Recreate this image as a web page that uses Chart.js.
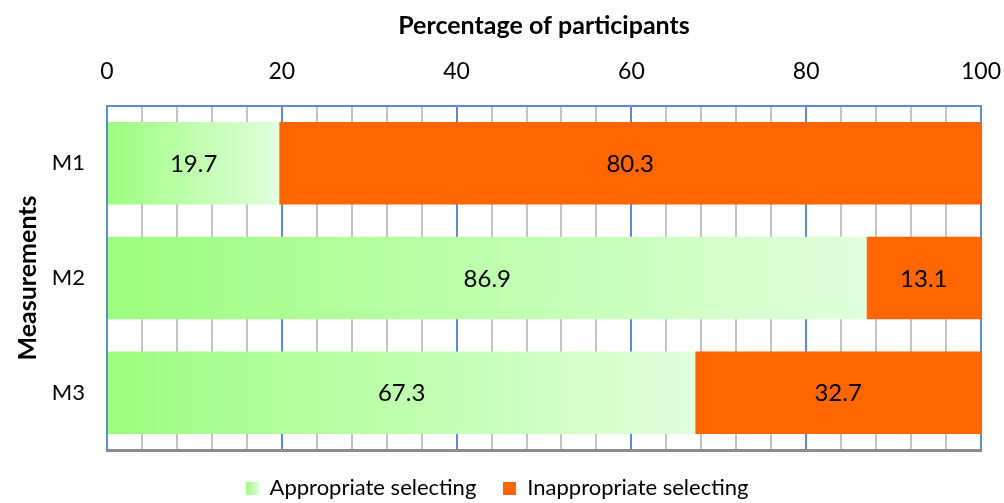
<!DOCTYPE html>
<html lang="en">
<head>
    <meta charset="UTF-8">
    <title>Percentage of participants</title>
    <script src="https://cdn.jsdelivr.net/npm/chart.js"></script>
    <style>
        html, body { margin: 0; padding: 0; background: #fff; }
        #wrap { width: 1004px; height: 503px; }
    </style>
</head>
<body>
    <div id="wrap"><canvas id="measureChart"></canvas></div>

    <script>
        const measurements = ['M1', 'M2', 'M3'];
        const appropriate = [19.7, 86.9, 67.3];
        const inappropriate = [80.3, 13.1, 32.7];
        const xTicks = [0, 20, 40, 60, 80, 100];

        const FONT = 'Lato';
        const GREEN_START = '#9dfd7f';
        const GREEN_END = '#e1ffdd';

        function greenFill(ctx) {
            const chart = ctx.chart;
            if (ctx.type !== 'data' || !chart.chartArea) return '#bdfcaa';
            const xs = chart.scales.x;
            const x0 = xs.getPixelForValue(0);
            const x1 = xs.getPixelForValue(appropriate[ctx.dataIndex]);
            const g = chart.ctx.createLinearGradient(x0, 0, x1, 0);
            g.addColorStop(0, GREEN_START);
            g.addColorStop(1, GREEN_END);
            return g;
        }

        // small gradient square for the legend
        const greenSwatch = document.createElement('canvas');
        greenSwatch.width = 13;
        greenSwatch.height = 13;
        (function () {
            const c = greenSwatch.getContext('2d');
            const g = c.createLinearGradient(0, 0, 13, 0);
            g.addColorStop(0, GREEN_START);
            g.addColorStop(1, GREEN_END);
            c.fillStyle = g;
            c.fillRect(0, 0, 13, 13);
        })();

        const orangeSwatch = document.createElement('canvas');
        orangeSwatch.width = 13;
        orangeSwatch.height = 13;
        orangeSwatch.getContext('2d').fillStyle = '#ff6600';
        orangeSwatch.getContext('2d').fillRect(0, 0, 13, 13);

        // value labels in the middle of each bar
        const barLabels = {
            id: 'barLabels',
            afterDatasetsDraw(chart) {
                const c = chart.ctx;
                c.save();
                c.font = '24px ' + FONT;
                c.fillStyle = '#000';
                c.textAlign = 'center';
                c.textBaseline = 'middle';
                chart.data.datasets.forEach((ds, i) => {
                    chart.getDatasetMeta(i).data.forEach((bar, j) => {
                        c.fillText(ds.data[j].toFixed(1), (bar.x + bar.base) / 2, bar.y + 1);
                    });
                });
                c.restore();
            }
        };

        const ctx = document.getElementById('measureChart').getContext('2d');
        const measureChart = new Chart(ctx, {
            type: 'bar',
            data: {
                labels: measurements,
                datasets: [{
                    label: 'Appropriate selecting',
                    data: appropriate,
                    backgroundColor: greenFill,
                    pointStyle: greenSwatch,
                    borderWidth: 0
                }, {
                    label: 'Inappropriate selecting',
                    data: inappropriate,
                    backgroundColor: '#ff6600',
                    pointStyle: orangeSwatch,
                    borderWidth: 0
                }]
            },
            options: {
                indexAxis: 'y',
                responsive: true,
                maintainAspectRatio: false,
                animation: false,
                layout: { padding: { left: 13, right: 23, top: 11, bottom: -6 } },
                datasets: {
                    bar: { categoryPercentage: 1, barPercentage: 0.72 }
                },
                scales: {
                    x: {
                        position: 'top',
                        stacked: true,
                        min: 0,
                        max: 100,
                        afterBuildTicks: axis => {
                            const t = [];
                            for (let v = 0; v <= 100; v += 4) t.push({ value: v });
                            axis.ticks = t;
                        },
                        afterFit: s => {
                            s.height = 95;
                            s.paddingLeft = 0;
                            s.paddingRight = 0;
                        },
                        ticks: {
                            autoSkip: false,
                            maxRotation: 0,
                            padding: 21,
                            color: '#000',
                            font: { family: FONT, size: 23 },
                            callback: v => xTicks.includes(v) ? v : ''
                        },
                        grid: {
                            drawTicks: false,
                            lineWidth: 2,
                            color: c => c.tick && c.tick.value % 20 === 0 ? '#5b8bd5' : '#c3c3c3'
                        },
                        border: { color: '#5b8bd5', width: 2 },
                        title: {
                            display: true,
                            text: 'Percentage of participants',
                            color: '#000',
                            font: { family: FONT, size: 25, weight: 'bold' },
                            padding: { top: 0, bottom: 0 }
                        }
                    },
                    x2: {
                        position: 'bottom',
                        min: 0,
                        max: 100,
                        ticks: { display: false },
                        grid: { display: false, drawTicks: false },
                        border: { color: '#8c8c8c', width: 3 },
                        afterFit: s => {
                            s.height = 0;
                            s.paddingLeft = 0;
                            s.paddingRight = 0;
                        }
                    },
                    y: {
                        stacked: true,
                        afterFit: s => { s.width = 94; },
                        ticks: {
                            color: '#000',
                            padding: 22,
                            font: { family: FONT, size: 22 }
                        },
                        grid: { display: false, drawTicks: false },
                        border: { color: '#5b8bd5', width: 2 },
                        title: {
                            display: true,
                            text: 'Measurements',
                            color: '#000',
                            font: { family: FONT, size: 25, weight: 'bold' },
                            padding: { top: 0, bottom: 0 }
                        }
                    }
                },
                plugins: {
                    legend: {
                        display: true,
                        position: 'bottom',
                        labels: {
                            color: '#000',
                            usePointStyle: true,
                            boxWidth: 13,
                            boxHeight: 13,
                            padding: 27,
                            font: { family: FONT, size: 22 }
                        }
                    },
                    tooltip: { enabled: false }
                }
            },
            plugins: [barLabels]
        });
    </script>
</body>
</html>
